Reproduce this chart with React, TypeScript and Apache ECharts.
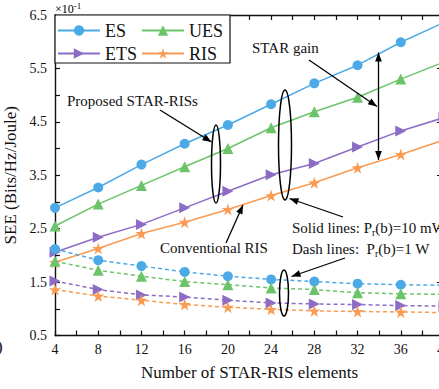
import React, { useEffect, useRef } from 'react';
import * as echarts from 'echarts';

const elements = [4, 8, 12, 16, 20, 24, 28, 32, 36, 40];
const esSolid = [2.89, 3.27, 3.70, 4.09, 4.44, 4.83, 5.22, 5.56, 5.99, 6.36];
const uesSolid = [2.55, 2.96, 3.31, 3.66, 4.00, 4.39, 4.69, 4.96, 5.30, 5.62];
const etsSolid = [2.06, 2.34, 2.58, 2.89, 3.20, 3.51, 3.72, 4.03, 4.33, 4.58];
const risSolid = [1.87, 2.13, 2.41, 2.62, 2.86, 3.12, 3.36, 3.64, 3.89, 4.16];
const esDash = [2.12, 1.91, 1.80, 1.69, 1.61, 1.55, 1.51, 1.47, 1.45, 1.44];
const uesDash = [1.89, 1.72, 1.61, 1.51, 1.45, 1.39, 1.36, 1.30, 1.28, 1.27];
const etsDash = [1.52, 1.36, 1.26, 1.22, 1.16, 1.11, 1.09, 1.08, 1.06, 1.05];
const risDash = [1.36, 1.24, 1.16, 1.08, 1.03, 0.99, 0.96, 0.95, 0.94, 0.93];

const FONT = "'Liberation Serif', 'DejaVu Serif', serif";
const STAR = 'path://M50,0 L61.8,35.1 L98.9,35.1 L68.9,56.8 L80.3,91.9 L50,70.2 L19.7,91.9 L31.1,56.8 L1.1,35.1 L38.2,35.1 Z';

const COLORS = { ES: '#4baae6', UES: '#6cc46a', ETS: '#8c6cc4', RIS: '#f99b52' };

const pairs = (ys: number[]) => elements.map((x, i) => [x, ys[i]]);

function arrowEls(x1: number, y1: number, x2: number, y2: number, both = false) {
  const L = 9, W = 3.4;
  const head = (tx: number, ty: number, fx: number, fy: number) => {
    const a = Math.atan2(ty - fy, tx - fx);
    const bx = tx - L * Math.cos(a), by = ty - L * Math.sin(a);
    const px = -Math.sin(a) * W, py = Math.cos(a) * W;
    return { type: 'polygon', shape: { points: [[tx, ty], [bx + px, by + py], [bx - px, by - py]] }, style: { fill: '#000' }, z: 100 };
  };
  const els: any[] = [
    { type: 'line', shape: { x1, y1, x2, y2 }, style: { stroke: '#000', lineWidth: 1.3 }, z: 100 },
    head(x2, y2, x1, y1),
  ];
  if (both) els.push(head(x1, y1, x2, y2));
  return els;
}

const ellipse = (cx: number, cy: number, rx: number, ry: number) => ({
  type: 'ellipse', shape: { cx, cy, rx, ry }, style: { fill: 'none', stroke: '#000', lineWidth: 1.5 }, z: 100,
});

const label = (x: number, y: number, text: string, rich?: any) => ({
  type: 'text', x, y, z: 100,
  style: { text, font: `15px ${FONT}`, fill: '#111', textVerticalAlign: 'middle', verticalAlign: 'middle', rich },
});

export default function App() {
  const ref = useRef<HTMLDivElement>(null);
  useEffect(() => {
    if (!ref.current) return;
    const chart = echarts.init(ref.current, undefined, { renderer: 'svg' });
    const lineSeries = (name: string, ys: number[], dashed: boolean, symbol: string, size: number, rotate = 0) => ({
      type: 'line', name, data: pairs(ys), symbol, symbolSize: size, symbolRotate: rotate,
      showAllSymbol: true, clip: false,
      itemStyle: { color: (COLORS as any)[name] },
      lineStyle: { color: (COLORS as any)[name], width: 1.5, type: dashed ? [4, 3] : 'solid' },
      z: 3,
    });
    const subRich = {
      a: { fontSize: 15, fontFamily: FONT, fill: '#111', color: '#111', lineHeight: 18 },
      s: { fontSize: 10, fontFamily: FONT, color: '#111', lineHeight: 18, padding: [8, 0, 0, 0] },
    };
    const legendBase = (name: string, left: number, top: number) => ({
      data: [name], left, top, padding: 0, itemWidth: 42, itemHeight: 13, itemGap: 0,
      textStyle: { fontFamily: FONT, fontSize: 18, color: '#111' },
      selectedMode: false,
    });
    const axisLine = { show: true, lineStyle: { color: '#111', width: 1.4 } };
    const tickStyle = { inside: true, length: 5, lineStyle: { color: '#111', width: 1.2 } };
    chart.setOption({
      animation: false,
      backgroundColor: '#fff',
      grid: { left: 55, top: 15, right: -5, bottom: 53.5, containLabel: false, outerBoundsMode: 'none' },
      legend: [
        legendBase('ES', 57, 21.5),
        legendBase('UES', 141, 21.5),
        legendBase('ETS', 57, 44.5),
        legendBase('RIS', 141, 44.5),
      ],
      xAxis: [
        {
          type: 'value', min: 4, max: 40, interval: 2, position: 'bottom',
          axisLine, axisTick: tickStyle, splitLine: { show: false },
          axisLabel: {
            fontFamily: FONT, fontSize: 14, color: '#111', margin: 7,
            formatter: (v: number) => (v % 4 === 0 ? String(v) : ''),
          },
          name: 'Number of STAR-RIS elements', nameLocation: 'middle', nameGap: 28,
          nameTextStyle: { fontFamily: FONT, fontSize: 17, color: '#111' },
        },
        {
          type: 'value', min: 4, max: 40, interval: 2, position: 'top',
          axisLine, axisTick: tickStyle, axisLabel: { show: false }, splitLine: { show: false },
        },
      ],
      yAxis: [
        {
          type: 'value', min: 0.5, max: 6.5, interval: 0.5, position: 'left',
          axisLine, axisTick: tickStyle, splitLine: { show: false },
          axisLabel: {
            fontFamily: FONT, fontSize: 14, color: '#111', margin: 8,
            formatter: (v: number) => (Math.abs((v * 2) % 2 - 1) < 0.01 ? v.toFixed(1) : ''),
          },
          name: 'SEE (Bits/Hz/Joule)', nameLocation: 'middle', nameGap: 28,
          nameTextStyle: { fontFamily: FONT, fontSize: 17, color: '#111' },
        },
        {
          type: 'value', min: 0.5, max: 6.5, interval: 1, position: 'right',
          axisLine, axisTick: { ...tickStyle, length: 7 }, axisLabel: { show: false }, splitLine: { show: false },
        },
      ],
      series: [
        lineSeries('ES', esSolid, false, 'circle', 10),
        lineSeries('UES', uesSolid, false, 'triangle', 11),
        lineSeries('ETS', etsSolid, false, 'triangle', 11, -90),
        lineSeries('RIS', risSolid, false, STAR, 12),
        lineSeries('ES', esDash, true, 'circle', 10),
        lineSeries('UES', uesDash, true, 'triangle', 11),
        lineSeries('ETS', etsDash, true, 'triangle', 11, -90),
        lineSeries('RIS', risDash, true, STAR, 12),
      ],
      graphic: [
        { type: 'rect', shape: { x: 55, y: 15, width: 175, height: 48 }, style: { fill: '#fff', stroke: '#111', lineWidth: 1.2 }, z: 1 },
        {
          type: 'text', x: 55, y: 9, z: 100,
          style: {
            text: '{a|×10}{s|-1}', verticalAlign: 'middle',
            rich: {
              a: { fontSize: 12, fontFamily: FONT, color: '#111', lineHeight: 14 },
              s: { fontSize: 9, fontFamily: FONT, color: '#111', lineHeight: 14, padding: [0, 0, 6, 0] },
            },
          },
        },
        label(252, 48, 'STAR gain'),
        label(67, 101, 'Proposed STAR-RISs'),
        label(160, 248, 'Conventional RIS'),
        label(292, 228, '{a|Solid lines: P}{s|r}{a|(b)=10 mW}', subRich),
        label(292, 249, '{a|Dash lines:  P}{s|r}{a|(b)=1 W}', subRich),
        { type: 'text', x: -3, y: 346, style: { text: ')', font: `17px ${FONT}`, fill: '#111', verticalAlign: 'middle' } },
        ellipse(216, 164, 4.5, 39),
        ellipse(285, 145, 6.5, 55),
        ellipse(284, 293, 4.5, 23),
        ...arrowEls(309, 60, 377, 106.5),
        ...arrowEls(378.5, 52.5, 378.5, 160, true),
        ...arrowEls(160, 110, 211.5, 142),
        ...arrowEls(226, 243, 243, 205),
        ...arrowEls(343, 217, 289.5, 198.5),
        ...arrowEls(345, 258, 291.5, 276.5),
      ],
    });
    return () => chart.dispose();
  }, []);
  return <div ref={ref} style={{ position: 'fixed', left: 0, top: 0, width: 439, height: 389 }} />;
}
